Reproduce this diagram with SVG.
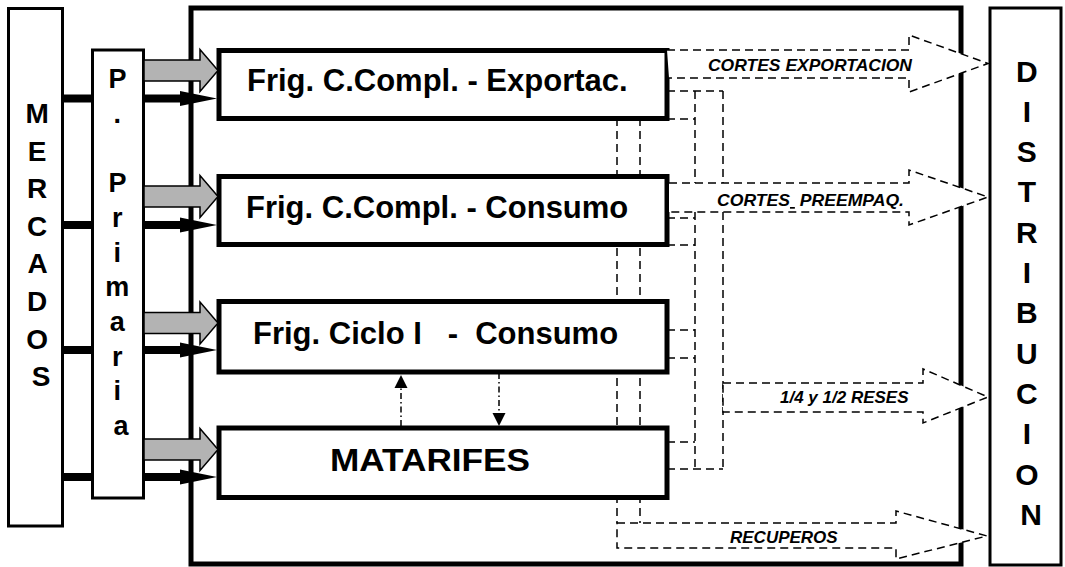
<svg xmlns="http://www.w3.org/2000/svg" width="1065" height="567" viewBox="0 0 1065 567">
  <defs>
    <style>
      .frame { fill: none; stroke: #000; stroke-width: 5; }
      .side { fill: #fff; stroke: #000; stroke-width: 3; }
      .box { fill: #fff; stroke: #000; stroke-width: 5; }
      .lbl { font-family: "Liberation Sans", Arial, sans-serif; font-weight: bold; fill: #000; }
      .big { font-size: 31px; }
      .tag { font-size: 17px; font-style: italic; }
      .dash { fill: none; stroke: #000; stroke-width: 1.5; stroke-dasharray: 8 5; }
      .flow { fill: #fff; stroke: #000; stroke-width: 1.5; stroke-dasharray: 8 5; }
      .dashdot { fill: none; stroke: #000; stroke-width: 1.5; stroke-dasharray: 6 3 1.5 3; }
      .feed { fill: #b3b3b3; stroke: #000; stroke-width: 1.5; }
      .bar { stroke: #000; stroke-width: 8; }
    </style>
  </defs>

  <rect width="1065" height="567" fill="#fff"/>

  <!-- outer frame of the industry block -->
  <rect class="frame" x="191" y="8" width="770" height="556"/>

  <!-- internal dashed routing (drawn under the boxes) -->
  <g id="routing">
    <path class="dash" d="M617,118 V523 M640,118 V523"/>
    <path class="dash" d="M695,91 V183 M695,212 V469 M723,91 V183 M723,212 V469"/>
    <path class="dash" d="M667,91 H723 M667,119 H695 M667,218 H695 M667,245 H695 M667,330 H695 M667,358 H695 M667,442 H695 M667,469 H723"/>
  </g>

  <g id="mercados">
    <rect class="side" x="8.5" y="8.5" width="54" height="517.5"/>
    <text class="lbl" font-size="28" text-anchor="middle">
      <tspan x="41" y="123">M</tspan>
      <tspan x="41" y="160.6">E</tspan>
      <tspan x="41" y="198.2">R</tspan>
      <tspan x="41" y="235.8">C</tspan>
      <tspan x="41" y="273.4">A</tspan>
      <tspan x="41" y="311">D</tspan>
      <tspan x="41" y="348.6">O</tspan>
      <tspan x="41" y="386.2">S</tspan>
    </text>
  </g>

  <g id="produccion-primaria">
    <rect class="side" x="92.5" y="50" width="51" height="448"/>
    <text class="lbl" font-size="27" text-anchor="middle">
      <tspan x="121" y="88">P</tspan>
      <tspan x="121" y="122.7">.</tspan>
      <tspan x="121" y="192.1">P</tspan>
      <tspan x="121" y="226.8">r</tspan>
      <tspan x="121" y="261.5">i</tspan>
      <tspan x="121" y="296.2">m</tspan>
      <tspan x="121" y="330.9">a</tspan>
      <tspan x="121" y="365.6">r</tspan>
      <tspan x="121" y="400.3">i</tspan>
      <tspan x="121" y="435">a</tspan>
    </text>
  </g>

  <g id="distribucion">
    <rect class="side" x="990" y="8" width="71" height="557"/>
    <text class="lbl" font-size="30" text-anchor="middle">
      <tspan x="1031" y="81.5">D</tspan>
      <tspan x="1031" y="121.8">I</tspan>
      <tspan x="1031" y="162.1">S</tspan>
      <tspan x="1031" y="202.4">T</tspan>
      <tspan x="1031" y="242.7">R</tspan>
      <tspan x="1031" y="283">I</tspan>
      <tspan x="1031" y="323.3">B</tspan>
      <tspan x="1031" y="363.6">U</tspan>
      <tspan x="1031" y="403.9">C</tspan>
      <tspan x="1031" y="444.2">I</tspan>
      <tspan x="1031" y="484.5">O</tspan>
      <tspan x="1031" y="524.8">N</tspan>
    </text>
  </g>

  <g id="frig-exportacion">
    <rect class="box" x="219" y="50.5" width="448" height="68"/>
    <text class="lbl big" x="247" y="91">Frig. C.Compl. - Exportac.</text>
  </g>

  <g id="frig-consumo">
    <rect class="box" x="219" y="176.5" width="448" height="68"/>
    <text class="lbl big" x="246" y="218">Frig. C.Compl. - Consumo</text>
  </g>

  <g id="frig-ciclo1">
    <rect class="box" x="219" y="301.5" width="448" height="70.5"/>
    <text class="lbl big" x="253" y="344" xml:space="preserve">Frig. Ciclo I   -  Consumo</text>
  </g>

  <g id="matarifes">
    <rect class="box" x="219" y="428" width="448" height="69.5"/>
    <text class="lbl" font-size="32" x="330" y="471" textLength="200" lengthAdjust="spacingAndGlyphs">MATARIFES</text>
  </g>

  <!-- connectors -->
  <g id="connectors">
    <!-- hollow dashed output arrows towards distribution -->
    <path class="flow" d="M667,50 H909 V35 L988,63.5 L909,92 V78 H669"/>
    <path class="flow" d="M669,183 H909 V170 L988,197 L909,225 V212 H669"/>
    <path class="flow" d="M723,383 H923 V369 L988,397 L923,423 V412 H723 Z"/>
    <path class="flow" d="M617,523 H896 V511 L987,536 L896,559 V548 H617 Z"/>

    <text class="lbl tag" x="708" y="71" textLength="204" lengthAdjust="spacingAndGlyphs">CORTES EXPORTACION</text>
    <text class="lbl tag" x="717" y="206" textLength="187" lengthAdjust="spacingAndGlyphs" xml:space="preserve">CORTES<tspan text-decoration="underline"> </tspan> PREEMPAQ.</text>
    <text class="lbl tag" x="780" y="403">1/4 y 1/2 RESES</text>
    <text class="lbl tag" x="730" y="543">RECUPEROS</text>

    <!-- exchange between Ciclo I and matarifes -->
    <path class="dashdot" d="M401,426 V386"/>
    <polygon points="401,375 394.5,388 407.5,388"/>
    <path class="dashdot" d="M499,373 V414"/>
    <polygon points="499,426 492.5,413 505.5,413"/>

    <!-- grey supply arrows from primary production -->
    <polygon class="feed" points="144,60 200,60 200,49.5 218,70.5 200,91.5 200,81 144,81"/>
    <polygon class="feed" points="144,186 200,186 200,175.5 218,196.5 200,217.5 200,207 144,207"/>
    <polygon class="feed" points="144,312.5 200,312.5 200,302 218,323 200,344 200,333.5 144,333.5"/>
    <polygon class="feed" points="144,439 200,439 200,428.5 218,449.5 200,470.5 200,460 144,460"/>

    <!-- black livestock arrows from markets -->
    <path class="bar" d="M63,98.5 H92 M144,98.5 H184 M63,225 H92 M144,225 H184 M63,350 H92 M144,350 H184 M63,477 H92 M144,477 H184"/>
    <polygon points="180,91 217,98.5 180,106"/>
    <polygon points="180,217.5 217,225 180,232.5"/>
    <polygon points="180,342.5 217,350 180,357.5"/>
    <polygon points="180,469.5 217,477 180,484.5"/>
  </g>
</svg>
